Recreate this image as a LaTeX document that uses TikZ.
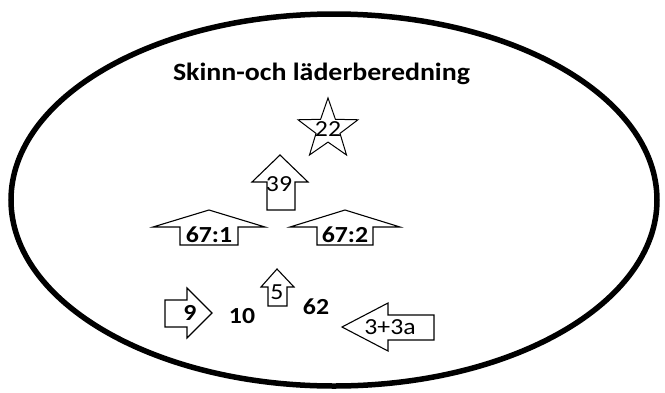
\documentclass[tikz,border=0pt]{standalone}
\usepackage{fontspec}
\setmainfont{Carlito}[FakeStretch=1.12]
\usetikzlibrary{shapes.geometric}
\tikzset{
  basenode/.style = {align=center, inner sep=0pt, text centered, font=\fontsize{23}{25}\selectfont},
  % num nodes: plain numbers, R regular, B bold
  num_R/.style = {basenode},
  num_B/.style = {basenode, font=\fontsize{23}{25}\selectfont\bfseries},
  title_T/.style = {basenode, anchor=base, font=\fontsize{24.9}{28}\selectfont\bfseries},
  arw_U/.style = {draw=black, line width=1.1pt, line join=miter, fill=white},
  star_S/.style = {star, star points=5, star point ratio=2.5, draw=black, line width=1pt,
                   minimum size=63pt, inner sep=0pt}
%   ring/.style = {draw=black, line width=4pt}% first try, too thin
}

\begin{document}
\begin{tikzpicture}[x=1pt,y=-1pt]
    \useasboundingbox (0,0) rectangle (665,392);
    % outer ring:
		\draw[line width=5.5pt] (334,200) ellipse [x radius=323pt, y radius=186pt];
		\node [title_T] (title) at (321.5,80) {Skinn-och läderberedning};
    % star on top:
		\node [star_S][label={[basenode]center:22}] (star) at (328,129.5) {};
    % Row 1 - up arrow:
		\draw [arw_U] (267,210) -- (267,182) -- (252,182) -- (280,155) -- (308,182) -- (295,182) -- (295,210) -- cycle;
		\node [num_R] (n39) at (279,184) {39};
    % Row 2 - flat arrows:
		\draw [arw_U] (180,245) -- (180,227) -- (153,227) -- (209,210) -- (265,227) -- (238,227) -- (238,245) -- cycle;
		\node [num_B] (n67a) at (209,235) {67:1};
		\draw [arw_U] (317,245) -- (317,227) -- (290,227) -- (345,210) -- (400,227) -- (373,227) -- (373,245) -- cycle;
		\node [num_B] (n67b) at (345,235) {67:2};
    % Row 3 - small arrows and loose numbers:
		\draw [arw_U] (268,306) -- (268,287) -- (261,287) -- (277,269) -- (294,287) -- (287,287) -- (287,306) -- cycle;
		\node [num_R] (n5) at (277,292) {5};
		\draw [arw_U] (165,300) -- (187,300) -- (187,288) -- (212,313) -- (187,338) -- (187,327) -- (165,327) -- cycle;
		\node [num_B] (n9) at (190,313) {9};
		\node [num_B] (n10) at (242,316) {10};
		\node [num_B] (n62) at (316,307) {62};
		\draw [arw_U] (434,315) -- (388,315) -- (388,303) -- (342,327) -- (388,351) -- (388,340) -- (434,340) -- cycle;
		\node [num_R] (n3a) at (390,327) {3+3a};
\end{tikzpicture}
\end{document}
